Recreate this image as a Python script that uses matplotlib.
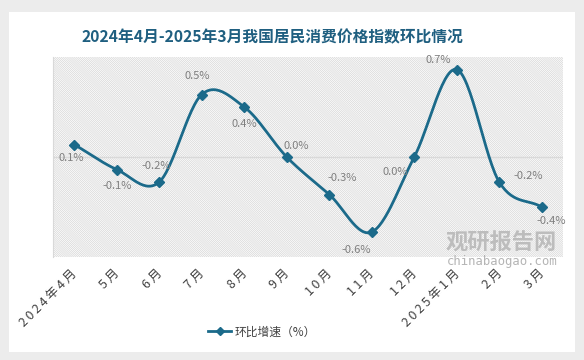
import numpy as np
import matplotlib
matplotlib.use('Agg')
import matplotlib.pyplot as plt
import matplotlib.transforms as mtransforms
from matplotlib.patches import Rectangle
from matplotlib.lines import Line2D

plt.rcParams['font.family'] = ['Noto Sans CJK SC', 'DejaVu Sans']
plt.rcParams['hatch.linewidth'] = 0.5

months = ['2024年4月', '5月', '6月', '7月', '8月', '9月', '10月', '11月', '12月', '2025年1月', '2月', '3月']
values = [0.1, -0.1, -0.2, 0.5, 0.4, 0.0, -0.3, -0.6, 0.0, 0.7, -0.2, -0.4]
labels = ['0.1%', '-0.1%', '-0.2%', '0.5%', '0.4%', '0.0%', '-0.3%', '-0.6%', '0.0%', '0.7%', '-0.2%', '-0.4%']
# label offsets in points
offsets = [(-2, -10), (0, -12), (-2, 11.5), (-3.5, 13), (0, -12), (6.5, 8),
           (9, 12), (-11, -13), (-14, -11), (-13, 6.5), (21, 4), (6.5, -10)]

color = '#1b6a8a'


def catmull_rom(x, y, n=30):
    px = np.concatenate([[2 * x[0] - x[1]], x, [2 * x[-1] - x[-2]]])
    py = np.concatenate([[2 * y[0] - y[1]], y, [2 * y[-1] - y[-2]]])
    xs, ys = [], []
    t = np.linspace(0, 1, n)
    for i in range(1, len(px) - 2):
        for p, out in ((px, xs), (py, ys)):
            p0, p1, p2, p3 = p[i - 1], p[i], p[i + 1], p[i + 2]
            out.append(0.5 * (2 * p1 + (-p0 + p2) * t + (2 * p0 - 5 * p1 + 4 * p2 - p3) * t ** 2
                              + (-p0 + 3 * p1 - 3 * p2 + p3) * t ** 3))
    return np.concatenate(xs), np.concatenate(ys)


fig = plt.figure(figsize=(5.84, 3.6), dpi=100)
fig.patch.set_facecolor('#ececec')
card = Rectangle((9 / 584, 8 / 360), 566 / 584, 340 / 360, transform=fig.transFigure,
                 facecolor='white', edgecolor='none', zorder=-5)
fig.patches.append(card)

ax = fig.add_axes([53 / 584, 103 / 360, 510 / 584, 200 / 360])
ax.set_zorder(2)
ax.set_facecolor('white')
ax.add_patch(Rectangle((0, 0), 1, 1, transform=ax.transAxes, facecolor='white',
                       edgecolor='#d6d6d6', linewidth=0, hatch='\\' * 16, zorder=0))

x = np.arange(len(months))
sx, sy = catmull_rom(x.astype(float), np.array(values))
ax.plot(sx, sy, color=color, lw=2, zorder=3)
ax.plot(x, values, color=color, marker='D', markersize=5.5, linestyle='none', zorder=4)

for i, (v, lab) in enumerate(zip(values, labels)):
    ax.annotate(lab, (i, v), xytext=offsets[i], textcoords='offset points',
                ha='center', va='center', fontsize=8, color='#7f7f7f', zorder=5)

ax.axhline(0, color='#d9d9d9', lw=1, zorder=1)
ax.set_xlim(-0.5, 11.5)
ax.set_ylim(-0.8, 0.8)
ax.set_yticks([])
ax.set_xticks(x)
ax.set_xticklabels(['\u2009'.join(m) for m in months], rotation=45, ha='right',
                   rotation_mode='anchor', fontsize=9, color='#404040')
ax.tick_params(axis='x', length=0, pad=7)
shift = mtransforms.ScaledTranslation(-4 / 100, 0, fig.dpi_scale_trans)
for t in ax.get_xticklabels():
    t.set_transform(t.get_transform() + shift)
for s in ['top', 'right', 'bottom']:
    ax.spines[s].set_visible(False)
ax.spines['left'].set_color('#d9d9d9')

fig.text(272 / 584, 1 - 37 / 360, '2024年4月-2025年3月我国居民消费价格指数环比情况',
         ha='center', va='center', fontsize=11.3, fontweight='bold', color='#1f5f80')

fig.text(557 / 584, 1 - 243 / 360, '观研报告网', ha='right', va='center', fontsize=16,
         fontweight='bold', color='#b5b5b5', alpha=0.85, zorder=10)
fig.text(557 / 584, 1 - 262 / 360, 'chinabaogao.com', ha='right', va='center', fontsize=8.8,
         family='DejaVu Sans Mono', color='#a8a8a8', alpha=0.85, zorder=10)

handle = Line2D([], [], color=color, lw=2, marker='D', markersize=4)
fig.legend([handle], ['环比增速（%）'], loc='center', bbox_to_anchor=(262 / 584, 1 - 332 / 360),
           frameon=False, fontsize=8.5, handlelength=2, handletextpad=0.3, labelcolor='#404040')

plt.savefig('out.png', dpi=100)
